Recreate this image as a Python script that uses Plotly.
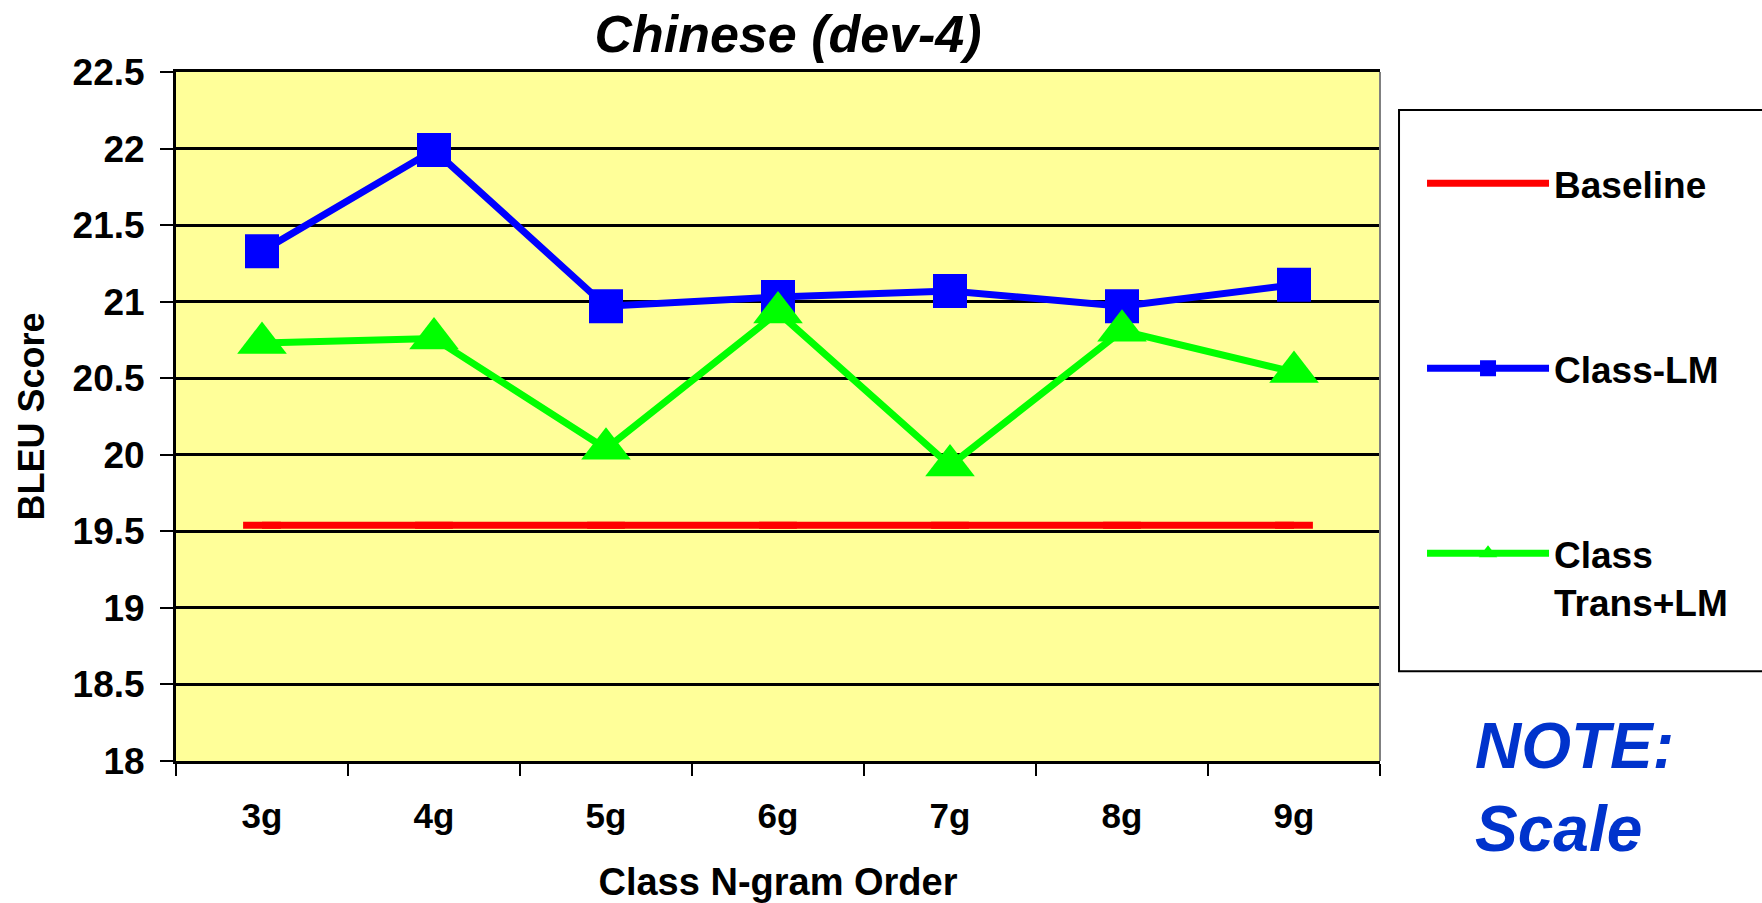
import plotly.graph_objects as go

categories = ["3g", "4g", "5g", "6g", "7g", "8g", "9g"]
baseline = [19.54, 19.54, 19.54, 19.54, 19.54, 19.54, 19.54]
class_lm = [21.33, 21.99, 20.97, 21.03, 21.07, 20.97, 21.11]
class_trans_lm = [20.73, 20.76, 20.04, 20.93, 19.93, 20.81, 20.54]
y_ticks = [18, 18.5, 19, 19.5, 20, 20.5, 21, 21.5, 22, 22.5]

FONT = "Liberation Sans, Arial, sans-serif"

fig = go.Figure()
fig.add_trace(go.Scatter(
    x=categories, y=baseline, name="Baseline", mode="lines+markers",
    line=dict(color="#FF0000", width=7),
    marker=dict(symbol="line-ew", size=27, color="#FF0000",
                line=dict(color="#FF0000", width=7)),
    legendgroup="a"))
fig.add_trace(go.Scatter(
    x=categories, y=class_lm, name="Class-LM", mode="lines+markers",
    line=dict(color="#0000FF", width=7),
    marker=dict(symbol="square", size=34, color="#0000FF"), legendgroup="b"))
fig.add_trace(go.Scatter(
    x=categories, y=class_trans_lm, name="Class<br>Trans+LM", mode="lines+markers",
    line=dict(color="#00FF00", width=7),
    marker=dict(symbol="triangle-up", size=43, color="#00FF00"), legendgroup="c"))

fig.update_layout(
    width=1762, height=903,
    margin=dict(l=176, r=382, t=72, b=142, pad=0),
    paper_bgcolor="white", plot_bgcolor="#FFFF99",
    font=dict(family=FONT, color="black"),
    title=dict(text="Chinese (dev-4)", x=788 / 1762, xanchor="center", xref="container",
               y=1 - 34 / 903, yref="container", yanchor="middle",
               font=dict(size=52, weight="bold", style="italic", family=FONT)),
    showlegend=True,
    legend=dict(x=1.0349, xanchor="left", y=0.883, yanchor="top",
                bgcolor="rgba(0,0,0,0)", borderwidth=0,
                font=dict(size=37, weight="bold", family=FONT),
                tracegroupgap=134, itemwidth=122, valign="top",
                traceorder="grouped"),
    xaxis=dict(type="category", range=[-0.5, 6.5], tickson="boundaries",
               automargin=False,
               ticks="outside", ticklen=12, tickwidth=2, tickcolor="black",
               showgrid=False, showline=True, linecolor="black", linewidth=3,
               mirror=True, ticklabelstandoff=22,
               tickfont=dict(size=35, weight="bold", family=FONT),
               title=dict(text="Class N-gram Order", standoff=37,
                          font=dict(size=38, weight="bold", family=FONT))),
    yaxis=dict(range=[18, 22.5], tickvals=y_ticks, ticks="outside", ticklen=13,
               automargin=False,
               tickwidth=2, tickcolor="black", showgrid=True, gridcolor="black",
               gridwidth=2.5, showline=True, linecolor="black", linewidth=3,
               zeroline=False, ticklabelstandoff=8,
               tickfont=dict(size=37, weight="bold", family=FONT),
               title=dict(text="BLEU Score", standoff=17,
                          font=dict(size=36, weight="bold", family=FONT))),
    shapes=[
        dict(type="rect", xref="paper", yref="paper", x0=1.0158, x1=1.33,
             y0=0.1304, y1=0.945, line=dict(color="black", width=2),
             fillcolor="white", layer="below"),
        dict(type="line", xref="paper", yref="paper", x0=1, x1=1, y0=0, y1=1,
             line=dict(color="#808080", width=2)),
    ],
    annotations=[
        dict(text="NOTE:<br>Scale", xref="paper", yref="paper",
             x=(1473 - 176) / 1204, y=(761 - 788) / 690, xanchor="left",
             yanchor="middle", align="left", showarrow=False,
             font=dict(size=64, weight="bold", style="italic", color="#0033CC",
                       family=FONT)),
    ],
)

fig.write_html(
    "out.html",
    config={"displayModeBar": False},
    post_script="document.body.style.margin='0';document.body.style.overflow='hidden';",
)
